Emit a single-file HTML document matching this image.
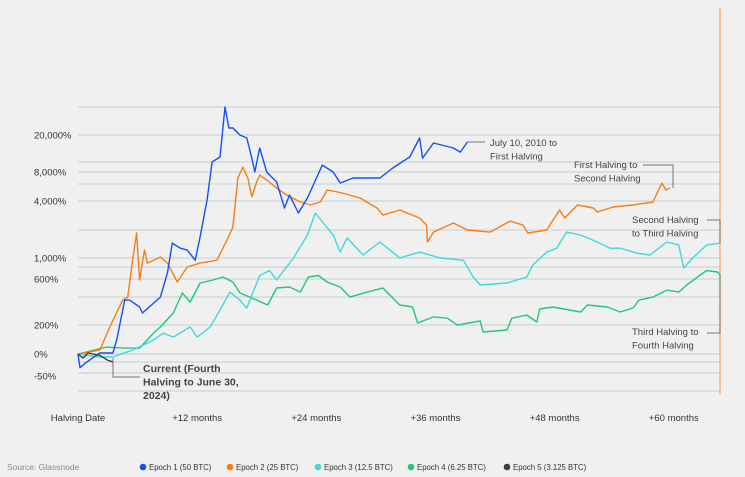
<!DOCTYPE html>
<html><head><meta charset="utf-8"><style>
body{margin:0;background:#f0f0f0;}
svg{display:block;font-family:"Liberation Sans",sans-serif;}
</style></head><body>
<svg id="chart" width="745" height="477" viewBox="0 0 745 477">
<rect width="745" height="477" fill="#f0f0f0"/>
<g id="grid"></g><g id="yticks"></g><g id="xticks"></g><g id="series"></g><g id="notes"></g><g id="legend"></g>
</svg>
<script>
const yTickValues=[-50,0,200,600,1000,4000,8000,20000];
const yTickLabels=["-50%","0%","200%","600%","1,000%","4,000%","8,000%","20,000%"];
const xTickMonths=[0,12,24,36,48,60];
const xTickLabels=["Halving Date","+12 months","+24 months","+36 months","+48 months","+60 months"];
const e1Months=[0,0.2,0.9,2.2,3.5,3.9,4.7,5.2,6.2,6.5,8.3,9.0,9.5,10.3,11.0,11.8,12.3,13.0,13.5,14.3,14.8,15.2,15.6,16.3,17.0,17.5,17.8,18.3,19.0,20.0,20.8,21.3,22.2,23.1,23.7,24.6,25.7,26.4,27.7,30.4,31.7,33.4,34.4,34.7,35.8,37.8,38.5,39.2];
const e1Values=[0,-35,-22,4,4,70,375,375,318,274,402,696,1450,1280,1220,950,1690,4100,10250,11600,39900,23800,23800,20000,18560,11300,8000,14500,8000,6300,3390,4620,3010,4300,5870,9500,8000,6150,6930,6930,8830,11600,18560,11300,16400,14500,13100,16800];
const e2Months=[0,2.2,3.2,4.5,5.0,5.5,5.9,6.2,6.7,7.0,8.3,9.0,10.0,11.0,12.3,14.0,15.0,15.6,16.1,16.6,17.1,17.5,18.0,18.3,19.0,20.0,21.0,22.4,23.4,24.4,25.1,26.4,28.4,30.1,30.7,32.4,34.4,35.1,35.2,35.8,37.8,39.2,41.5,43.5,44.8,45.3,47.2,48.5,49.0,50.3,51.9,52.3,53.9,55.9,57.9,58.8,59.2,59.6];
const e2Values=[0,16,178,375,402,950,1860,587,1220,886,1025,886,562,806,886,950,1560,2150,6930,9040,6930,4410,6300,7430,6610,5460,4620,3910,3640,3910,5210,4910,4300,3390,2860,3230,2670,2250,1490,1900,2370,2000,1900,2480,2250,1860,2000,3230,2670,3640,3390,3080,3470,3640,3910,6150,5210,5460];
const e3Months=[0,2.2,3.5,5.5,7.6,8.6,9.6,11.3,12.0,13.3,14.3,15.3,16.3,17.0,18.3,19.3,20.0,21.7,23.1,23.9,24.7,25.7,26.4,27.1,28.7,30.4,32.4,34.4,36.5,38.8,39.8,40.5,43.2,45.2,45.8,47.2,48.2,49.2,50.6,52.3,53.6,54.6,56.3,57.6,59.3,60.5,61.0,61.9,63.3,64.7];
const e3Values=[0,-9,-9,16,70,121,90,178,90,178,295,450,375,310,655,740,587,1000,1770,3010,2370,1770,1160,1650,1080,1490,1000,1160,1000,950,631,527,550,631,846,1160,1280,1900,1770,1490,1280,1280,1130,1080,1490,1380,787,1000,1380,1450];
const e4Months=[0,2.9,4.5,6.2,7.6,8.3,9.6,10.5,11.3,12.3,13.6,14.6,15.6,16.3,17.3,18.0,19.1,20.0,21.3,22.4,23.2,24.2,25.1,26.4,27.4,29.1,30.7,32.4,33.7,34.2,35.8,37.2,38.2,40.5,40.8,43.2,43.7,45.2,46.2,46.5,47.8,50.6,51.3,53.3,54.6,55.9,56.5,57.9,59.3,60.5,61.3,62.6,63.3,64.4,64.7];
const e4Values=[0,30,25,25,121,178,274,441,358,550,587,631,562,441,402,375,334,493,504,450,631,655,562,504,402,450,493,334,318,211,248,240,200,223,130,148,240,261,217,303,318,281,334,318,281,310,375,402,471,450,527,655,740,713,655];
const e5Months=[0,0.5,1.0,1.5,2.2,3.0,3.5];
const e5Values=[0,-12,4,0,-4,-18,-22];
const seriesNames=["Epoch 1 (50 BTC)","Epoch 2 (25 BTC)","Epoch 3 (12.5 BTC)","Epoch 4 (6.25 BTC)","Epoch 5 (3.125 BTC)"];
const seriesColors=["#1450f5","#f97c14","#3fd8dc","#1ec97a","#3a3d4a"];

const NS="http://www.w3.org/2000/svg";
// axis calibration (pixels for tick values)
const yPix=[376,354,325,279,258,201,172,135];
function yScale(p){
  const L=Math.log10(1+p/100);
  const Ls=yTickValues.map(v=>Math.log10(1+v/100));
  let i=0; while(i<Ls.length-2 && L>Ls[i+1]) i++;
  if(L<Ls[0]) i=0;
  const t=(L-Ls[i])/(Ls[i+1]-Ls[i]);
  return yPix[i]+t*(yPix[i+1]-yPix[i]);
}
function xScale(m){return 78+m*9.93;}
function mk(tag,attrs,parent){const e=document.createElementNS(NS,tag);for(const k in attrs)e.setAttribute(k,attrs[k]);parent.appendChild(e);return e;}

const grid=document.getElementById('grid');
[107,135,162,172,184,201,230,258,267,279,297,325,354,362,373,391].forEach(y=>{
  const l=mk('line',{x1:78,x2:720,y1:y,y2:y,stroke:'#d3dbdb','stroke-width':1.6},grid);
  
  
});
const vl=mk('line',{x1:720,x2:720,y1:8,y2:395,stroke:'#f9b27a','stroke-width':1.5},grid);



const yt=document.getElementById('yticks');
yTickValues.forEach((v,i)=>{
  const t=mk('text',{x:34,y:yScale(v)+3.5,'font-size':9.5,fill:'#333'},yt);
  t.textContent=yTickLabels[i];
  
  
});
const xt=document.getElementById('xticks');
xTickMonths.forEach((m,i)=>{
  const t=mk('text',{x:xScale(m),y:421,'font-size':9.5,fill:'#333','text-anchor':'middle'},xt);
  t.textContent=xTickLabels[i];
  
  
});

const sg=document.getElementById('series');
const allM=[e4Months,e3Months,e2Months,e1Months,e5Months];
const allV=[e4Values,e3Values,e2Values,e1Values,e5Values];
const idx=[3,2,1,0,4];
allM.forEach((ms,k)=>{
  const pts=ms.map((m,i)=>xScale(m).toFixed(1)+','+yScale(allV[k][i]).toFixed(1)).join(' ');
  const p=mk('polyline',{points:pts,fill:'none',stroke:seriesColors[idx[k]],'stroke-width':1.4,'stroke-linejoin':'round'},sg);
  
  
});

const ng=document.getElementById('notes');
function note(lines,x,y,bold,path,name){
  const g=mk('g',{},ng);
  
  
  mk('path',{d:path,fill:'none',stroke:'#777','stroke-width':1},g);
  lines.forEach((s,i)=>{const t=mk('text',{x:x,y:y+i*13.5,'font-size':bold?10.5:9.5,'font-weight':bold?'bold':'normal',fill:'#444'},g);t.textContent=s;});
}
note(["July 10, 2010 to","First Halving"],490,146,false,"M467,142 H485","annotation-epoch-1");
note(["First Halving to","Second Halving"],574,168,false,"M643,165 H673 V188","annotation-epoch-2");
note(["Second Halving","to Third Halving"],632,223,false,"M707,220 H720 V243","annotation-epoch-3");
note(["Third Halving to","Fourth Halving"],632,335,false,"M707,333 H720 V275","annotation-epoch-4");
note(["Current (Fourth","Halving to June 30,","2024)"],143,372,true,"M113,358 V377 H140","annotation-epoch-5");

const lg=document.getElementById('legend');
const src=mk('text',{x:7,y:470,'font-size':8.5,fill:'#888'},lg);
src.textContent="Source: Glassnode";


const lx=[143,230,318,411,507];
seriesNames.forEach((n,i)=>{
  const g=mk('g',{},lg);
  
  
  mk('circle',{cx:lx[i],cy:467,r:3.3,fill:seriesColors[i]},g);
  const t=mk('text',{x:lx[i]+6,y:470,'font-size':7.8,fill:'#333'},g);
  t.textContent=n;
});
</script>
</body></html>
